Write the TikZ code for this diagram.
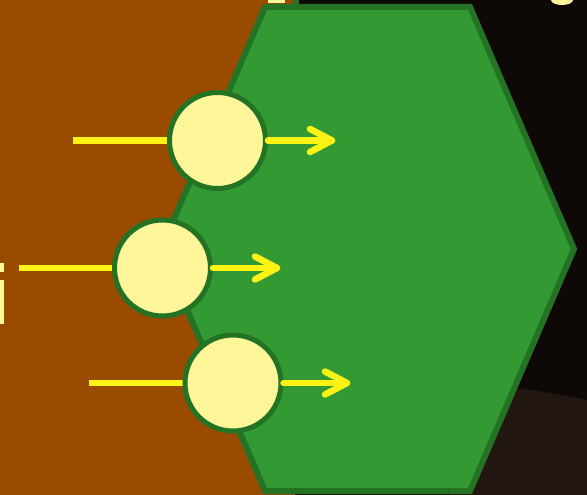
\documentclass[tikz,border=0pt]{standalone}
\usetikzlibrary{calc}
\definecolor{bgbrown}{RGB}{153,76,0}
\definecolor{bgdark}{RGB}{14,9,7}
\definecolor{bgdark2}{RGB}{34,23,16}
\definecolor{hexfill}{RGB}{51,153,51}
\definecolor{hexborder}{RGB}{36,115,36}
\definecolor{circfill}{RGB}{255,245,153}
\definecolor{linkyellow}{RGB}{255,242,21}
\tikzset{
  hexshape/.style={fill=hexfill, draw=hexborder, line width=6pt, line join=miter},
  unitcirc/.style={circle, fill=circfill, draw=hexborder, line width=5pt, minimum size=96pt, inner sep=0pt},
  feed/.style={draw=linkyellow, line width=6.5pt},
  outarrow/.style={draw=linkyellow, line width=6.5pt, line cap=round, line join=round},
  frag/.style={fill=circfill}
}
\begin{document}
\begin{tikzpicture}[x=1pt,y=-1pt]
\useasboundingbox (0,0) rectangle (587,495);
% background
\fill[bgbrown] (0,0) rectangle (295,495);
\fill[bgdark] (295,0) rectangle (587,495);
\fill[bgdark2] (450,382) .. controls (500,385) and (550,392) .. (587,400) -- (587,495) -- (450,495) -- cycle;
\fill[hexborder] (293,0) rectangle (299,6);
% fragments
\fill[frag] (268,0) rectangle (285,3);
\fill[frag] (562,0) ellipse [x radius=11, y radius=5];
\fill[frag] (0,263) rectangle (4,272);
\fill[frag] (0,280) rectangle (4,324);
% hexagon
\draw[hexshape] (265,7) -- (470,7) -- (574,249) -- (470,491) -- (265,491) -- (161,249) -- cycle;
% inputs
\coordinate (s1) at (73,140.5);
\coordinate (s2) at (19,268);
\coordinate (s3) at (89,383);
\coordinate (t1) at (332,140.5);
\coordinate (t2) at (277,268);
\coordinate (t3) at (347,383);
\path (217.5,140.5) coordinate (p1) (162.5,268) coordinate (p2) (233,383) coordinate (p3);
\draw[feed] (s1) -- (p1);
\draw[feed] (s2) -- (p2);
\draw[feed] (s3) -- (p3);
\node[unitcirc] (c1) at (p1) {};
\node[unitcirc] (c2) at (p2) {};
\node[unitcirc] (c3) at (p3) {};
\foreach \i in {1,2,3}{
  \draw[outarrow] (c\i.east) -- (t\i);
  \draw[outarrow] ($(t\i)+(-22,-11.5)$) -- (t\i) -- ($(t\i)+(-22,11.5)$);
}
\end{tikzpicture}
\end{document}
